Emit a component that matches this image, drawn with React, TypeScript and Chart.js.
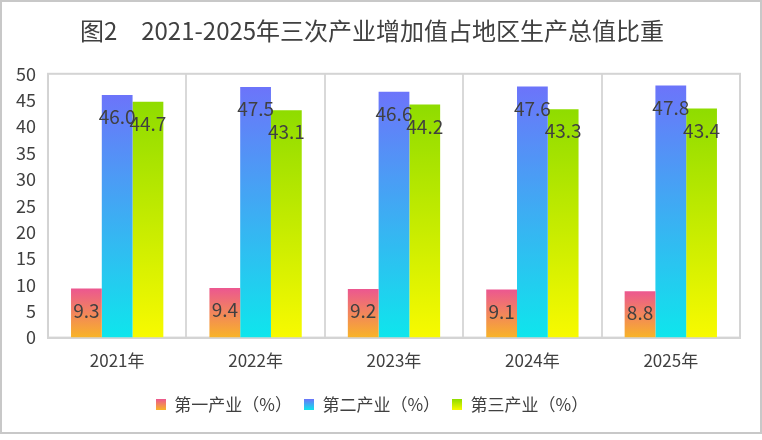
import Chart from 'chart.js/auto';
import { useEffect, useRef } from 'react';

const years = ['2021年', '2022年', '2023年', '2024年', '2025年'];
const primary = [9.3, 9.4, 9.2, 9.1, 8.8];
const secondary = [46.0, 47.5, 46.6, 47.6, 47.8];
const tertiary = [44.7, 43.1, 44.2, 43.3, 43.4];
const seriesNames = ['第一产业（%）', '第二产业（%）', '第三产业（%）'];

const FONT = '"Noto Sans CJK SC", "Noto Sans", sans-serif';
const TEXT = '#404040';

// top colour, bottom colour
const gradients: [string, string][] = [
  ['#ec5790', '#f8b427'],
  ['#6c74fa', '#0ee6ec'],
  ['#8fdc00', '#f8fa00'],
];

const barFill = (idx: number) => (ctx: any) => {
  const chart = ctx.chart;
  const { chartArea, scales } = chart;
  if (!chartArea || ctx.type !== 'data') return gradients[idx][0];
  const top = scales.y.getPixelForValue(ctx.raw);
  const bottom = scales.y.getPixelForValue(0);
  const g = chart.ctx.createLinearGradient(0, top, 0, bottom);
  g.addColorStop(0, gradients[idx][0]);
  g.addColorStop(1, gradients[idx][1]);
  return g;
};

const legendSwatch = (idx: number) => {
  const c = document.createElement('canvas');
  c.width = 10;
  c.height = 11;
  const cx = c.getContext('2d');
  if (cx) {
    const g = cx.createLinearGradient(0, 0, 0, 11);
    g.addColorStop(0, gradients[idx][0]);
    g.addColorStop(1, gradients[idx][1]);
    cx.fillStyle = g;
    cx.fillRect(0, 0, 10, 11);
  }
  return c;
};

const frame = {
  id: 'frame',
  beforeDatasetsDraw(chart: any) {
    const { ctx, chartArea } = chart;
    ctx.save();
    ctx.strokeStyle = '#d4d4d4';
    ctx.lineWidth = 2;
    ctx.strokeRect(chartArea.left, chartArea.top, chartArea.right - chartArea.left, chartArea.bottom - chartArea.top);
    ctx.restore();
  },
};

const valueLabels = {
  id: 'valueLabels',
  afterDatasetsDraw(chart: any) {
    const { ctx } = chart;
    ctx.save();
    ctx.font = `19px ${FONT}`;
    ctx.fillStyle = TEXT;
    ctx.textAlign = 'center';
    ctx.textBaseline = 'middle';
    chart.data.datasets.forEach((ds: any, i: number) => {
      const meta = chart.getDatasetMeta(i);
      meta.data.forEach((el: any, j: number) => {
        ctx.fillText(Number(ds.data[j]).toFixed(1), el.x, el.y + 22);
      });
    });
    ctx.restore();
  },
};

const App = () => {
  const chartRef = useRef<HTMLCanvasElement>(null);

  useEffect(() => {
    const canvas = chartRef.current;
    if (!canvas) return;
    const swatches = [0, 1, 2].map(legendSwatch);

    const chart = new Chart(canvas, {
      type: 'bar',
      data: {
        labels: years,
        datasets: [primary, secondary, tertiary].map((d, i) => ({
          label: seriesNames[i],
          data: d,
          backgroundColor: barFill(i),
          borderWidth: 0,
          barPercentage: 1,
          categoryPercentage: 0.667,
        })),
      },
      options: {
        animation: false,
        responsive: true,
        maintainAspectRatio: false,
        layout: { padding: { left: 2, right: 20, top: 0, bottom: 9 } },
        scales: {
          x: {
            offset: true,
            grid: { offset: true, color: '#d9d9d9', lineWidth: 2, drawTicks: false },
            border: { color: '#d4d4d4', width: 2 },
            ticks: { color: TEXT, font: { family: FONT, size: 17 }, padding: 13 },
          },
          y: {
            min: 0,
            max: 50,
            grid: { display: false, drawTicks: false },
            border: { color: '#d4d4d4', width: 2 },
            ticks: { stepSize: 5, color: TEXT, font: { family: FONT, size: 18 }, padding: 12 },
          },
        },
        plugins: {
          title: {
            display: true,
            text: '图2　2021-2025年三次产业增加值占地区生产总值比重',
            color: TEXT,
            font: { family: FONT, size: 24, weight: 'normal' },
            padding: { top: 14, bottom: 29 },
          },
          legend: {
            position: 'bottom',
            labels: {
              color: TEXT,
              font: { family: FONT, size: 17 },
              usePointStyle: true,
              pointStyleWidth: 10,
              padding: 12,
              generateLabels: (ch: any) =>
                ch.data.datasets.map((ds: any, i: number) => ({
                  text: ds.label,
                  datasetIndex: i,
                  pointStyle: swatches[i],
                  fontColor: TEXT,
                  lineWidth: 0,
                  strokeStyle: 'transparent',
                  fillStyle: gradients[i][0],
                  hidden: !ch.isDatasetVisible(i),
                })),
            },
          },
          tooltip: { enabled: false },
        },
      },
      plugins: [frame, valueLabels],
    });

    return () => {
      chart.destroy();
    };
  }, []);

  return (
    <div
      style={{
        position: 'absolute',
        left: 0,
        top: 0,
        width: 762,
        height: 434,
        boxSizing: 'border-box',
        border: '2px solid #c8c8c8',
        background: '#fff',
      }}
    >
      <canvas ref={chartRef}></canvas>
    </div>
  );
};

export default App;
